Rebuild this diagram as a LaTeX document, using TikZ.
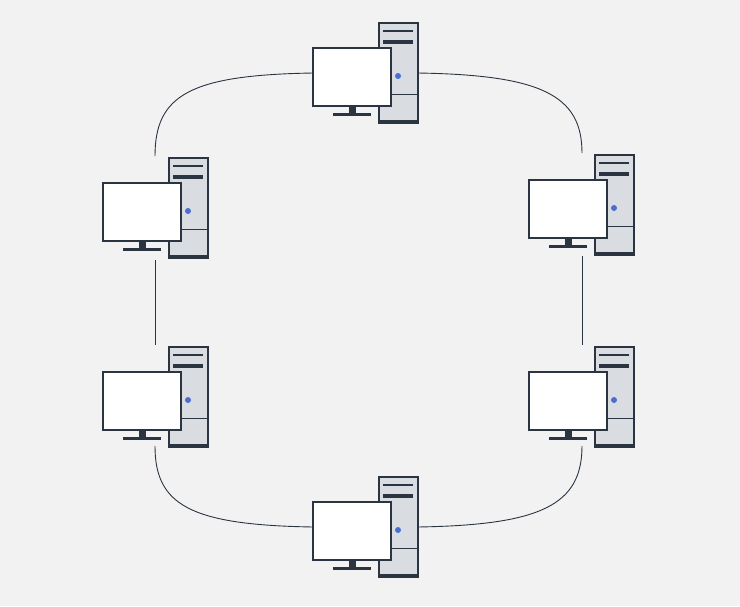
\documentclass[tikz,border=0pt]{standalone}
\begin{document}
\definecolor{bg}{HTML}{F2F2F3}
\definecolor{dk}{HTML}{2B3441}
\definecolor{tw}{HTML}{D9DCE1}
\definecolor{bl}{HTML}{4A6FD0}
\begin{tikzpicture}[x=1pt,y=-1pt,
  wire/.style={draw=dk,line width=0.9pt},
  pics/pc/.style={code={
    \draw[dk,line width=1.3pt,fill=tw] (66,-25) rectangle (105,75);
    \fill[dk] (66,72) rectangle (105,76);
    \draw[dk,line width=1.2pt] (70,-17) -- (100,-17);
    \fill[dk] (70,-8) rectangle (100,-4);
    \draw[dk,line width=0.6pt] (66,46) -- (105,46);
    \fill[bl] (85,28) circle (3pt);
    \draw[dk,line width=1.3pt,fill=white] (0,0) rectangle (78,58);
    \fill[dk] (36,58) rectangle (43,65);
    \fill[dk] (20,65) rectangle (58,67.5);
  }}]
\fill[bg] (0,0) rectangle (740,606);
\pic at (313,48) {pc};
\pic at (103,183) {pc};
\pic at (529,180) {pc};
\pic at (103,372) {pc};
\pic at (529,372) {pc};
\pic at (313,502) {pc};
\coordinate (t1) at (313,73); \coordinate (t2) at (418,73);
\coordinate (lu1) at (155,156); \coordinate (lu2) at (155,260);
\coordinate (ru1) at (582,153); \coordinate (ru2) at (582,256);
\coordinate (ll1) at (155,345); \coordinate (ll2) at (155,446);
\coordinate (rl1) at (582,345); \coordinate (rl2) at (582,446);
\coordinate (b1) at (313,527); \coordinate (b2) at (418,527);
\draw[wire] (t1) .. controls (190,75) and (155,95) .. (lu1);
\draw[wire] (t2) .. controls (541,75) and (582,95) .. (ru1);
\draw[wire] (lu2) -- (ll1);
\draw[wire] (ru2) -- (rl1);
\draw[wire] (ll2) .. controls (155,505) and (190,525) .. (b1);
\draw[wire] (rl2) .. controls (582,505) and (541,525) .. (b2);
\end{tikzpicture}
\end{document}
